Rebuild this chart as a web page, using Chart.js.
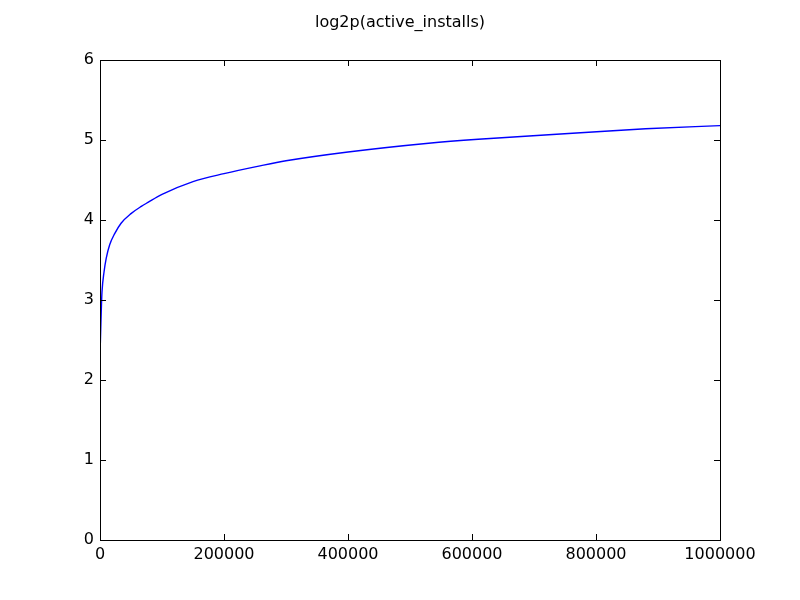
<!DOCTYPE html>
<html>
<head>
<meta charset="utf-8">
<title>log2p(active_installs)</title>
<script src="https://cdn.jsdelivr.net/npm/chart.js@4/dist/chart.umd.min.js"></script>
<style>
    html, body { margin: 0; padding: 0; background: #fff; }
    #wrap { width: 800px; height: 600px; }
</style>
</head>
<body>
<div id="wrap"><canvas id="chart" width="800" height="600"></canvas></div>
<script>
// values
const installs = [0, 1600, 2400, 3200, 6500, 10000, 15600, 23700, 34000, 50000,
    66600, 77400, 100000, 150000, 200000, 260000, 300000, 400000,
    530000, 610000, 775000, 880000, 1000000];
const log2pValues = [2.3, 2.75, 2.95, 3.1, 3.35, 3.52, 3.69, 3.83, 3.96, 4.08,
    4.17, 4.22, 4.32, 4.48, 4.58, 4.68, 4.74, 4.85,
    4.96, 5.01, 5.09, 5.14, 5.18];
const xTicks = [0, 200000, 400000, 600000, 800000, 1000000];
const yTicks = [0, 1, 2, 3, 4, 5, 6];

const chartTitle = 'log2p(active_installs)';

// figure title, centred on the whole canvas like a suptitle
const figTitle = {
    id: 'figTitle',
    afterDraw(chart) {
        const ctx = chart.ctx;
        ctx.save();
        ctx.font = '16px "DejaVu Sans"';
        ctx.fillStyle = '#000';
        ctx.textAlign = 'center';
        ctx.textBaseline = 'alphabetic';
        ctx.fillText(chartTitle, chart.width / 2, 27);
        ctx.restore();
    }
};

// matplotlib-like frame with inward ticks on every side
const frameTicks = {
    id: 'frameTicks',
    afterDatasetsDraw(chart) {
        const { ctx, chartArea: a, scales } = chart;
        const len = 6;
        ctx.save();
        ctx.strokeStyle = '#000';
        ctx.lineWidth = 1;
        ctx.beginPath();
        xTicks.forEach(v => {
            const x = Math.round(scales.x.getPixelForValue(v)) + 0.5;
            ctx.moveTo(x, a.bottom); ctx.lineTo(x, a.bottom - len);
            ctx.moveTo(x, a.top); ctx.lineTo(x, a.top + len);
        });
        yTicks.forEach(v => {
            const y = Math.round(scales.y.getPixelForValue(v)) + 0.5;
            ctx.moveTo(a.left, y); ctx.lineTo(a.left + len, y);
            ctx.moveTo(a.right, y); ctx.lineTo(a.right - len, y);
        });
        ctx.stroke();
        ctx.strokeRect(Math.round(a.left) + 0.5, Math.round(a.top) + 0.5,
            Math.round(a.right - a.left), Math.round(a.bottom - a.top));
        ctx.restore();
    }
};

Chart.defaults.font.family = 'DejaVu Sans';
Chart.defaults.color = '#000';

new Chart(document.getElementById('chart'), {
    type: 'line',
    data: {
        datasets: [{
            data: installs.map((x, i) => ({ x: x, y: log2pValues[i] })),
            borderColor: '#0000ff',
            borderWidth: 1.4,
            pointRadius: 0,
            fill: false,
            cubicInterpolationMode: 'monotone'
        }]
    },
    options: {
        responsive: false,
        devicePixelRatio: 1,
        animation: false,
        layout: { padding: { left: 0, right: 80, top: 60, bottom: 0 } },
        plugins: {
            legend: { display: false },
            tooltip: { enabled: false },
            title: { display: false }
        },
        scales: {
            x: {
                type: 'linear',
                min: 0,
                max: 1000000,
                afterFit: s => { s.height = 60; },
                afterBuildTicks: s => { s.ticks = xTicks.map(v => ({ value: v })); },
                grid: { display: false, drawTicks: false },
                border: { display: false },
                ticks: {
                    font: { size: 16 },
                    padding: 5,
                    maxRotation: 0,
                    autoSkip: false,
                    callback: v => String(v)
                }
            },
            y: {
                min: 0,
                max: 6,
                afterFit: s => { s.width = 100; },
                afterBuildTicks: s => { s.ticks = yTicks.map(v => ({ value: v })); },
                grid: { display: false, drawTicks: false },
                border: { display: false },
                ticks: {
                    font: { size: 16 },
                    padding: 6,
                    callback: v => String(v)
                }
            }
        }
    },
    plugins: [frameTicks, figTitle]
});
</script>
</body>
</html>
